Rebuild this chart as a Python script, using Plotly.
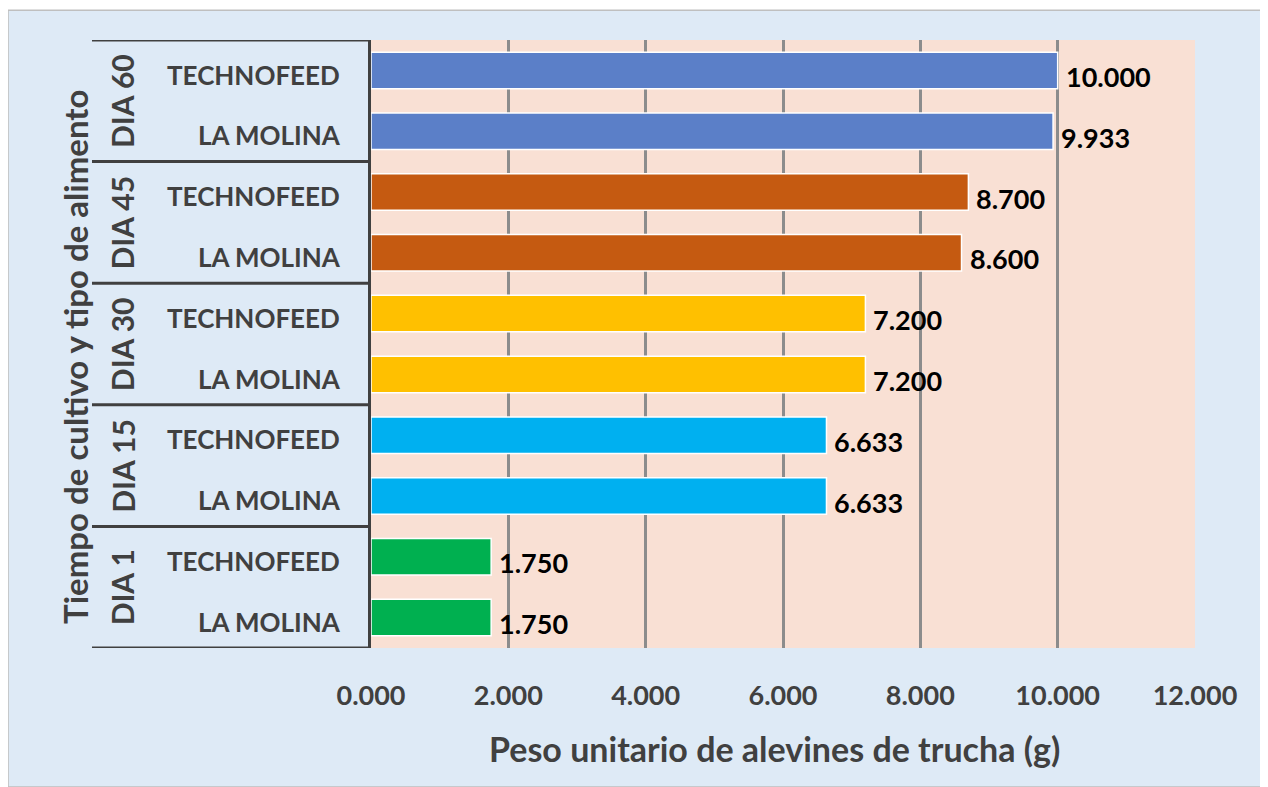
import plotly.graph_objects as go

# data
dias = ["DIA 1", "DIA 15", "DIA 30", "DIA 45", "DIA 60"]
alimentos = ["LA MOLINA", "TECHNOFEED"]
peso = {
    "DIA 1": [1.750, 1.750],
    "DIA 15": [6.633, 6.633],
    "DIA 30": [7.200, 7.200],
    "DIA 45": [8.600, 8.700],
    "DIA 60": [9.933, 10.000],
}
colores = ["#00B050", "#00B0F0", "#FFC000", "#C55A11", "#5B7FC8"]
x_ticks = [0, 2, 4, 6, 8, 10, 12]

GRIS = "#404040"
FONT = "Lato"

fig = go.Figure()

tickvals, ticktext = [], []
for i, (dia, color) in enumerate(zip(dias, colores)):
    pos = [2 * i + j for j in range(len(alimentos))]
    tickvals += pos
    ticktext += alimentos
    fig.add_trace(
        go.Bar(
            x=peso[dia],
            y=pos,
            orientation="h",
            width=0.6,
            marker=dict(color=color, line=dict(color="white", width=1.5)),
            showlegend=False,
            hoverinfo="skip",
        )
    )
    # data labels, sitting a little below the bar centre like Excel does
    for v, p in zip(peso[dia], pos):
        fig.add_annotation(
            x=v, y=p, xref="x", yref="y",
            xanchor="left", yanchor="middle", xshift=6, yshift=-6,
            text=f"{v:.3f}", showarrow=False,
            font=dict(family=FONT, size=27, color="black", weight="bold"),
        )
    # group label
    fig.add_annotation(
        x=-0.302, xref="paper", y=2 * i + 0.5, yref="y",
        xanchor="center", yanchor="middle",
        text=dia, textangle=-90, showarrow=False,
        font=dict(family=FONT, size=30, color=GRIS, weight="bold"),
    )

n_rows = len(dias) * len(alimentos)

# background rects (chart area + plot area)
fig.add_shape(type="rect", xref="paper", yref="paper",
              x0=-0.4405, x1=1.0862, y0=-0.2286, y1=1.049,
              fillcolor="#DEEAF6", line=dict(color="#BFBFBF", width=1.5),
              layer="below")
fig.add_shape(type="rect", xref="paper", yref="paper",
              x0=0, x1=1, y0=0, y1=1,
              fillcolor="#F9E0D4", line=dict(width=0), layer="below")

# category dividers
for k in range(len(dias) + 1):
    fig.add_shape(type="line", xref="paper", yref="y",
                  x0=-0.3386, x1=0, y0=2 * k - 0.5, y1=2 * k - 0.5,
                  line=dict(color=GRIS, width=3))

# axis titles
fig.add_annotation(
    x=-0.359, xref="paper", y=0.479, yref="paper",
    xanchor="center", yanchor="middle",
    text="Tiempo de cultivo y tipo de alimento", textangle=-90, showarrow=False,
    font=dict(family=FONT, size=33, color=GRIS, weight="bold"),
)
fig.add_annotation(
    x=0.49, xref="paper", y=-0.1645, yref="paper",
    xanchor="center", yanchor="middle",
    text="Peso unitario de alevines de trucha (g)", showarrow=False,
    font=dict(family=FONT, size=34, color=GRIS, weight="bold"),
)

fig.update_xaxes(
    range=[0, 12],
    tickvals=x_ticks,
    ticktext=[f"{v:.3f}" for v in x_ticks],
    showgrid=True, gridcolor="#8C8C8C", gridwidth=2.5,
    zeroline=False, showline=False,
    ticks="outside", ticklen=24, tickcolor="rgba(0,0,0,0)",
    tickfont=dict(family=FONT, size=27, color=GRIS, weight="bold"),
)
fig.update_yaxes(
    range=[-0.5, n_rows - 0.5],
    tickvals=tickvals, ticktext=ticktext,
    showgrid=False, zeroline=False,
    showline=True, linecolor=GRIS, linewidth=3,
    ticks="outside", ticklen=23, tickcolor="rgba(0,0,0,0)",
    ticklabelshift=5,
    tickfont=dict(family=FONT, size=26, color=GRIS, weight="bold"),
)

# page body has an 8px margin, so the figure is offset to line up
fig.update_layout(
    width=1260, height=779,
    margin=dict(l=363, r=73, t=32, b=139),
    paper_bgcolor="white",
    plot_bgcolor="rgba(0,0,0,0)",
    barmode="overlay",
    font=dict(family=FONT),
)

fig.write_html("out.html")
